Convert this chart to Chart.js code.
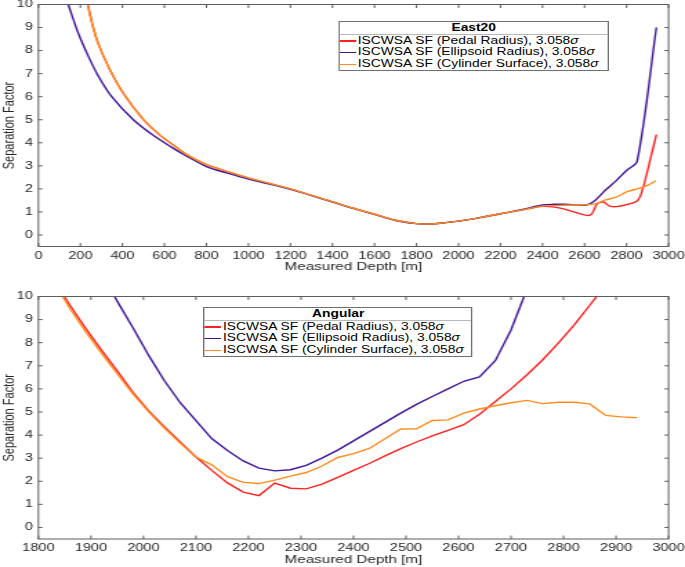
<!DOCTYPE html>
<html>
<head>
<meta charset="utf-8">
<script src="https://cdn.jsdelivr.net/npm/chart.js@4.4.1/dist/chart.umd.min.js"></script>
<style>
html, body { margin: 0; padding: 0; background: #fff; overflow: hidden; }
/* the reference is stretched sideways, so draw narrow and scale in x */
#page { position: absolute; left: 0; top: 0; width: 496px; height: 567px;
        transform: scaleX(1.381); transform-origin: 0 0;
        font-family: "Liberation Sans", Arial, sans-serif; }
.wrap { position: absolute; left: 0; width: 496px; }
.legend { position: absolute; border: 1px solid #707070; background: #fff; font-size: 10px; color: #000; }
.legend .ttl { font-weight: bold; text-align: center; border-bottom: 1px solid #b8b8b8; height: 12px; line-height: 12px; }
.legend .row { height: 11.7px; line-height: 11.7px; white-space: nowrap; }
.legend .sw { display: inline-block; width: 12px; height: 1.5px; vertical-align: middle; margin-right: 1px; }
</style>
</head>
<body>
<div id="page">
  <div class="wrap" style="top:0;height:280px"><canvas id="east20"></canvas></div>
  <div class="wrap" style="top:280px;height:287px"><canvas id="angular"></canvas></div>
  <div class="legend" style="left:245px;top:20.7px;width:194px">
    <div class="ttl">East20</div>
    <div class="row"><span class="sw" style="background:#ff2020"></span>ISCWSA SF (Pedal Radius), 3.058<i>σ</i></div>
    <div class="row"><span class="sw" style="background:#3f169c"></span>ISCWSA SF (Ellipsoid Radius), 3.058<i>σ</i></div>
    <div class="row"><span class="sw" style="background:#ff8c1f"></span>ISCWSA SF (Cylinder Surface), 3.058<i>σ</i></div>
  </div>
  <div class="legend" style="left:147.4px;top:306.7px;width:193px">
    <div class="ttl">Angular</div>
    <div class="row"><span class="sw" style="background:#ff2020"></span>ISCWSA SF (Pedal Radius), 3.058<i>σ</i></div>
    <div class="row"><span class="sw" style="background:#3f169c"></span>ISCWSA SF (Ellipsoid Radius), 3.058<i>σ</i></div>
    <div class="row"><span class="sw" style="background:#ff8c1f"></span>ISCWSA SF (Cylinder Surface), 3.058<i>σ</i></div>
  </div>
</div>
<script>
// East20 panel
const eastPedalDepth = [235, 258, 285, 333, 397, 500, 580, 658, 700, 800, 900, 1000, 1100, 1200, 1300, 1400, 1500, 1600, 1700, 1800, 1850, 1900, 2000, 2100, 2200, 2300, 2400, 2450, 2500, 2550, 2610, 2635, 2660, 2690, 2720, 2760, 2850, 2880, 2912, 2942];
const eastPedalSF = [10, 9.1, 8.3, 7.3, 6.25, 5, 4.32, 3.8, 3.52, 3.05, 2.75, 2.47, 2.24, 2.0, 1.72, 1.44, 1.16, 0.9, 0.64, 0.49, 0.47, 0.5, 0.6, 0.75, 0.92, 1.08, 1.24, 1.22, 1.13, 1.0, 0.85, 0.92, 1.35, 1.43, 1.25, 1.24, 1.47, 2.1, 3.25, 4.35];
const eastEllipsoidDepth = [142, 190, 238, 285, 349, 452, 550, 635, 700, 800, 900, 1000, 1100, 1200, 1300, 1400, 1500, 1600, 1700, 1800, 1850, 1900, 2000, 2100, 2200, 2300, 2400, 2450, 2500, 2550, 2610, 2650, 2700, 2750, 2800, 2850, 2942];
const eastEllipsoidSF = [10, 8.75, 7.75, 6.9, 6.0, 5.0, 4.3, 3.8, 3.45, 2.97, 2.68, 2.42, 2.21, 1.98, 1.71, 1.43, 1.15, 0.89, 0.63, 0.49, 0.47, 0.5, 0.6, 0.75, 0.92, 1.1, 1.3, 1.33, 1.33, 1.31, 1.3, 1.5, 1.95, 2.35, 2.8, 3.18, 9.0];
const eastCylinderDepth = [235, 258, 285, 333, 397, 500, 580, 658, 700, 800, 900, 1000, 1100, 1200, 1300, 1400, 1500, 1600, 1700, 1800, 1850, 1900, 2000, 2100, 2200, 2300, 2400, 2500, 2600, 2650, 2700, 2750, 2800, 2850, 2900, 2940];
const eastCylinderSF = [10, 9.1, 8.3, 7.3, 6.25, 5, 4.32, 3.8, 3.52, 3.05, 2.75, 2.47, 2.24, 2.0, 1.72, 1.44, 1.16, 0.9, 0.64, 0.49, 0.47, 0.5, 0.6, 0.75, 0.92, 1.08, 1.25, 1.29, 1.31, 1.35, 1.52, 1.64, 1.87, 2.0, 2.15, 2.35];

// Angular panel
const angPedalDepth = [1830, 1860, 1890, 1920, 1950, 1980, 2010, 2040, 2070, 2100, 2130, 2160, 2190, 2220, 2250, 2280, 2310, 2340, 2370, 2400, 2430, 2460, 2490, 2520, 2550, 2580, 2610, 2640, 2670, 2700, 2730, 2760, 2790, 2820, 2850, 2880];
const angPedalSF = [10.7, 9.62, 8.62, 7.68, 6.78, 5.85, 5.05, 4.35, 3.7, 3.05, 2.47, 1.93, 1.53, 1.38, 1.92, 1.7, 1.67, 1.88, 2.17, 2.47, 2.77, 3.1, 3.41, 3.7, 3.97, 4.2, 4.45, 4.9, 5.45, 6.0, 6.6, 7.25, 7.98, 8.76, 9.62, 10.5];
const angEllipsoidDepth = [1920, 1950, 1980, 2010, 2040, 2070, 2100, 2130, 2160, 2190, 2220, 2250, 2280, 2310, 2340, 2370, 2400, 2430, 2460, 2490, 2520, 2550, 2580, 2610, 2640, 2670, 2700, 2730];
const angEllipsoidSF = [11.0, 9.8, 8.65, 7.45, 6.35, 5.4, 4.63, 3.85, 3.33, 2.88, 2.57, 2.45, 2.5, 2.69, 3.0, 3.35, 3.75, 4.15, 4.55, 4.95, 5.33, 5.67, 6.0, 6.33, 6.52, 7.22, 8.55, 10.3];
const angCylinderDepth = [1830, 1860, 1890, 1920, 1950, 1980, 2010, 2040, 2070, 2100, 2130, 2160, 2190, 2220, 2250, 2280, 2310, 2340, 2370, 2400, 2430, 2460, 2490, 2520, 2550, 2580, 2610, 2640, 2670, 2700, 2730, 2760, 2790, 2820, 2850, 2880, 2910, 2940];
const angCylinderSF = [10.6, 9.48, 8.48, 7.55, 6.66, 5.78, 5.0, 4.3, 3.65, 3.05, 2.71, 2.2, 1.95, 1.9, 2.05, 2.22, 2.38, 2.66, 3.03, 3.2, 3.42, 3.84, 4.26, 4.27, 4.63, 4.66, 4.95, 5.13, 5.27, 5.4, 5.5, 5.36, 5.42, 5.42, 5.35, 4.85, 4.79, 4.75];

const seriesNames = ['ISCWSA SF (Pedal Radius), 3.058σ', 'ISCWSA SF (Ellipsoid Radius), 3.058σ', 'ISCWSA SF (Cylinder Surface), 3.058σ'];
const seriesColors = ['#ff2020', '#3f169c', '#ff8c1f'];

const pts = (xs, ys) => xs.map((x, i) => ({ x: x, y: ys[i] }));
const font = s => ({ size: s, family: '"Liberation Sans", Arial' });

// matlab style box with inward ticks on all four sides
const boxTicks = {
    id: 'boxTicks',
    afterDraw(chart) {
        const { ctx, chartArea: a, scales: { x, y } } = chart;
        ctx.save();
        ctx.strokeStyle = '#5c5c5c';
        ctx.lineWidth = 1;
        ctx.strokeRect(a.left, a.top, a.right - a.left, a.bottom - a.top);
        ctx.beginPath();
        x.ticks.forEach(t => {
            const px = x.getPixelForValue(t.value);
            ctx.moveTo(px, a.bottom); ctx.lineTo(px, a.bottom - 3.5);
            ctx.moveTo(px, a.top); ctx.lineTo(px, a.top + 3.5);
        });
        y.ticks.forEach(t => {
            const py = y.getPixelForValue(t.value);
            ctx.moveTo(a.left, py); ctx.lineTo(a.left + 3, py);
            ctx.moveTo(a.right, py); ctx.lineTo(a.right - 3, py);
        });
        ctx.stroke();
        ctx.restore();
    }
};

function makeChart(id, depths, sfs, xMin, xMax, xStep, pad, xAxisH, titlePadB, tension) {
    const datasets = depths.map((d, i) => ({
        label: seriesNames[i],
        data: pts(d, sfs[i]),
        borderColor: seriesColors[i],
        borderWidth: 1.4,
        pointRadius: 0,
        fill: false,
        order: 2 - i,
        tension: tension
    }));
    return new Chart(document.getElementById(id), {
        type: 'line',
        data: { datasets: datasets },
        plugins: [boxTicks],
        options: {
            responsive: true,
            maintainAspectRatio: false,
            animation: false,
            layout: { padding: pad },
            plugins: { legend: { display: false }, tooltip: { enabled: false } },
            scales: {
                x: {
                    type: 'linear', min: xMin, max: xMax,
                    grid: { display: false, drawTicks: false },
                    border: { display: false },
                    ticks: { stepSize: xStep, includeBounds: false, autoSkip: false, maxRotation: 0, padding: 3,
                             color: '#262626', font: font(10.5), callback: v => String(v) },
                    title: { display: true, text: 'Measured Depth [m]', color: '#262626',
                             padding: { top: 0, bottom: titlePadB }, font: font(11) },
                    afterFit: s => { s.height = xAxisH; s.paddingLeft = 0; s.paddingRight = 0; }
                },
                y: {
                    min: -0.5, max: 10,
                    grid: { display: false, drawTicks: false },
                    border: { display: false },
                    ticks: { stepSize: 1, includeBounds: false, padding: 4,
                             color: '#262626', font: font(10.5), callback: v => String(v) },
                    title: { display: true, text: 'Separation Factor', color: '#262626',
                             padding: { top: 0, bottom: 0 }, font: font(11) },
                    afterFit: s => { s.width = 27.8; s.paddingTop = 0; s.paddingBottom = 0; }
                }
            }
        }
    });
}

makeChart('east20',
    [eastPedalDepth, eastEllipsoidDepth, eastCylinderDepth],
    [eastPedalSF, eastEllipsoidSF, eastCylinderSF],
    0, 3000, 200, { top: 4.5, right: 11.9, left: 0, bottom: 0 }, 33.5, 6.2, 0.3);

makeChart('angular',
    [angPedalDepth, angEllipsoidDepth, angCylinderDepth],
    [angPedalSF, angEllipsoidSF, angCylinderSF],
    1800, 3000, 100, { top: 16.5, right: 11.9, left: 0, bottom: 0 }, 28, 0, 0);
</script>
</body>
</html>
